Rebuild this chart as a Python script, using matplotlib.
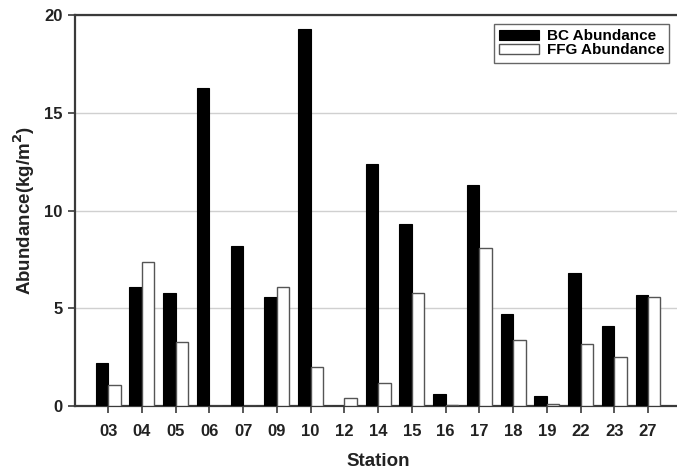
import numpy as np
import matplotlib.pyplot as plt

plt.rcParams['font.family'] = ['Liberation Sans', 'DejaVu Sans']

stations = ['03', '04', '05', '06', '07', '09', '10', '12', '14',
            '15', '16', '17', '18', '19', '22', '23', '27']
bc  = [2.2, 6.1, 5.8, 16.3, 8.2, 5.6, 19.3, 0.0, 12.4,
       9.3, 0.6, 11.3, 4.7, 0.5, 6.8, 4.1, 5.7]
ffg = [1.1, 7.4, 3.3, 0.0, 0.0, 6.1, 2.0, 0.4, 1.2,
       5.8, 0.08, 8.1, 3.4, 0.1, 3.2, 2.5, 5.6]

x = np.arange(len(stations))
w = 0.37

fig = plt.figure(figsize=(6.77, 4.69), dpi=100)
ax = fig.add_axes([0.111, 0.134, 0.895, 0.833])

ax.bar(x - w/2, bc, w, color='black', edgecolor='black', lw=0.8,
       label='BC Abundance', zorder=3)
ax.bar(x + w/2, ffg, w, color='white', edgecolor='#555555', lw=1.0,
       label='FFG Abundance', zorder=3)

ax.set_xlim(-0.98, 16.98)
ax.set_ylim(0, 20)
ax.set_yticks([0, 5, 10, 15, 20])
ax.set_xticks(x)
ax.set_xticklabels(stations)
ax.yaxis.grid(True, color='#d0d0d0', lw=1.0, zorder=0)

for s in ['left', 'bottom', 'top']:
    ax.spines[s].set_linewidth(1.6)
    ax.spines[s].set_color('#3a3a3a')
ax.spines['right'].set_visible(False)
ax.tick_params(direction='out', length=5, width=1.2, labelsize=12, colors='#3a3a3a',
               labelcolor='#222222')
ax.tick_params(axis='x', pad=8)
ax.tick_params(axis='y', pad=4)
for lab in ax.get_xticklabels() + ax.get_yticklabels():
    lab.set_fontweight('bold')

ax.set_xlabel('Station', fontsize=13.5, fontweight='bold', labelpad=10, color='#222222')
ax.set_ylabel('Abundance(kg/m$^\\mathbf{2}$)', fontsize=13.5, fontweight='bold',
              labelpad=5, color='#222222')

leg = ax.legend(loc='upper right', bbox_to_anchor=(1.0, 0.965),
                bbox_transform=fig.transFigure, fancybox=False,
                edgecolor='#666666', framealpha=1, handlelength=2.6, handleheight=0.7,
                labelspacing=0.0, borderpad=0.35, handletextpad=0.5,
                prop={'weight': 'bold', 'size': 11})
leg.get_frame().set_linewidth(1.0)

plt.savefig('out.png', dpi=100)
